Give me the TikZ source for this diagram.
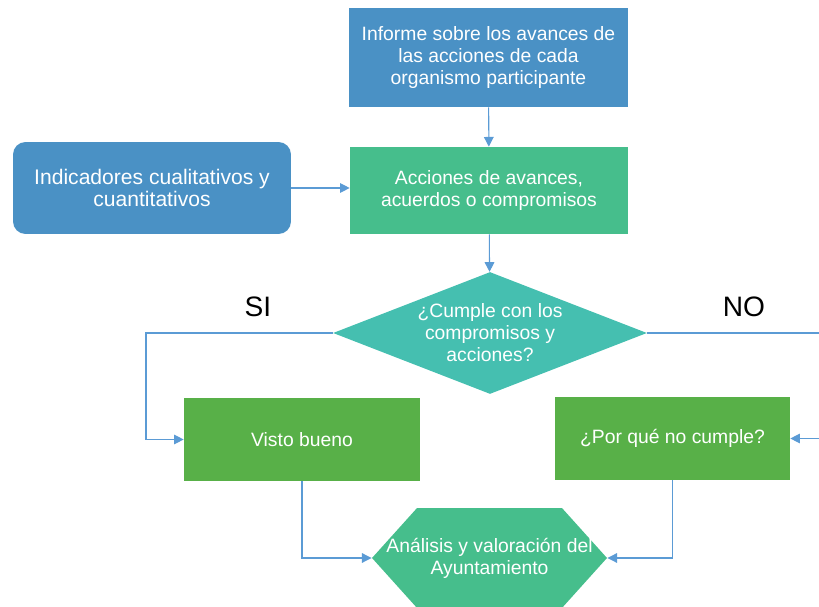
\documentclass[tikz,border=0pt]{standalone}
\usepackage{fontspec}
\setmainfont{Liberation Sans}
\usetikzlibrary{shapes.geometric,shapes.symbols,arrows.meta}
\definecolor{azul}{HTML}{4A91C5}
\definecolor{verde}{HTML}{46BE8C}
\definecolor{turquesa}{HTML}{45BFB0}
\definecolor{pasto}{HTML}{58B048}
\definecolor{linea}{HTML}{5B9BD5}

\begin{document}
\begin{tikzpicture}[x=0.02cm, y=-0.02cm,
    caja/.style={rectangle, text=white, align=center, inner sep=2pt,
      font=\fontsize{11}{12.5}\selectfont},
    link/.style={draw=linea, line width=0.6pt,
      -{Triangle[length=5.5pt, width=5.5pt]}},
    etiqueta/.style={font=\fontsize{16}{18}\selectfont}]
  \useasboundingbox (0,0) rectangle (819,607);
  \node[caja, fill=azul, minimum width=5.58cm, minimum height=1.98cm] (informe) at (488.5,57.5)
    {Informe sobre los avances de\\las acciones de cada\\organismo participante};
  \node[caja, fill=verde, minimum width=5.56cm, minimum height=1.74cm] (acciones) at (489,190.5)
    {Acciones de avances,\\acuerdos o compromisos};
  \node[caja, fill=azul, rounded corners=0.25cm, minimum width=5.56cm, minimum height=1.84cm,
    font=\fontsize{12}{13}\selectfont] (indicadores) at (152,188)
    {Indicadores cualitativos y\\cuantitativos};
  \node[shape=diamond, fill=turquesa, minimum width=6.28cm, minimum height=2.44cm,
    inner sep=0pt, label={[caja]center:{¿Cumple con los\\compromisos y\\acciones?}}]
    (cumple) at (490,333) {};
  \node[caja, fill=pasto, minimum width=4.72cm, minimum height=1.66cm] (visto) at (302,439.5)
    {Visto bueno};
  \node[caja, fill=pasto, minimum width=4.7cm, minimum height=1.66cm] (porque) at (672.5,438.5)
    {¿Por qué no cumple?};
  \node[shape=signal, signal to=east and west, signal pointer angle=96, fill=verde,
    minimum width=4.7cm, minimum height=2cm, inner sep=0pt,
    label={[caja]center:{Análisis y valoración del\\Ayuntamiento}}]
    (analisis) at (489.5,558) {};
  \node[etiqueta] (si) at (258,307) {SI};
  \node[etiqueta] (no) at (744,307) {NO};
  \coordinate (sigiro) at (146,439.5);
  \coordinate (nogiro) at (840,438.5);
  \draw[link] (informe) -- (acciones);
  \draw[link] (indicadores.east) -- (indicadores.east -| acciones.west);
  \draw[link] (acciones) -- (cumple);
  \draw[link] (cumple.west) -| (sigiro) -- (visto.west);
  \draw[link] (cumple.east) -| (nogiro) -- (porque.east);
  \draw[link] (visto.south) |- (analisis.west);
  \draw[link] (porque.south) |- (analisis.east);
\end{tikzpicture}
\end{document}
